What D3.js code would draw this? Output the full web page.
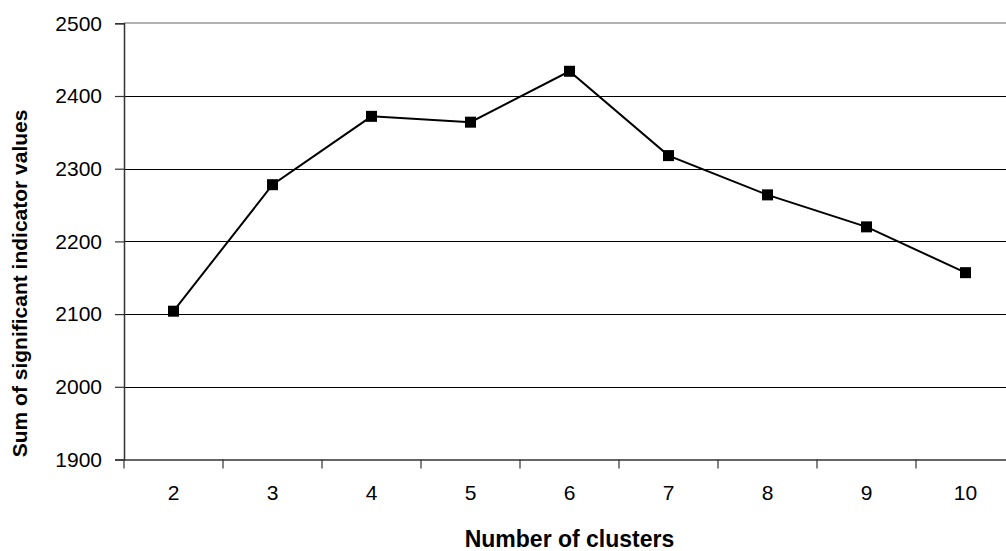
<!DOCTYPE html>
<html><head><meta charset="utf-8">
<script src="https://cdn.jsdelivr.net/npm/d3@7"></script>
<style>html,body{margin:0;padding:0;background:#fff;overflow:hidden}</style>
</head><body>
<svg id="c" width="1006" height="551"></svg>
<script>
const categories = ["2","3","4","5","6","7","8","9","10"];
const values = [2104, 2278, 2372, 2364, 2434, 2318, 2264, 2220, 2157];
const yTicks = [1900, 2000, 2100, 2200, 2300, 2400, 2500];

const svg = d3.select("#c");
const L = 124, R = 1015, T = 23.3, B = 459.5;
const font = "'Liberation Sans', Arial, sans-serif";

const x = d3.scaleBand().domain(categories).range([L, R]).padding(0);
const y = d3.scaleLinear().domain([1900, 2500]).range([B, T]);

// gridlines
svg.append("g").selectAll("line").data(yTicks.filter(d => d > 1900 && d < 2500)).join("line")
  .attr("x1", L).attr("x2", R).attr("y1", d => Math.round(y(d)) + 0.5).attr("y2", d => Math.round(y(d)) + 0.5)
  .attr("stroke", "#000").attr("stroke-width", 1);
// top border
svg.append("line").attr("x1", L).attr("x2", R).attr("y1", Math.round(T)).attr("y2", Math.round(T))
  .attr("stroke", "#999").attr("stroke-width", 1.5);

// y axis
const yAxis = svg.append("g").attr("transform", `translate(${L},0)`)
  .call(d3.axisLeft(y).tickValues(yTicks).tickSize(9).tickPadding(13).tickFormat(d3.format("d")));
yAxis.select(".domain").attr("stroke", "#333").attr("stroke-width", 1.5);
yAxis.selectAll(".tick line").attr("stroke", "#333").attr("stroke-width", 1.2);
yAxis.selectAll("text").attr("font-family", font).attr("font-size", 21).attr("fill", "#000");

// x axis
const xAxis = svg.append("g").attr("transform", `translate(0,${B})`)
  .call(d3.axisBottom(x).tickSize(0).tickPadding(26));
xAxis.select(".domain").attr("stroke", "#333").attr("stroke-width", 1.5);
xAxis.selectAll("text").attr("font-family", font).attr("font-size", 21).attr("fill", "#000");
// category boundary ticks
const bounds = categories.map(c => x(c)).concat([R]);
svg.append("g").selectAll("line").data(bounds).join("line")
  .attr("x1", d => d).attr("x2", d => d).attr("y1", B).attr("y2", B + 9)
  .attr("stroke", "#333").attr("stroke-width", 1.2);

// line
const cx = c => x(c) + x.bandwidth() / 2;
svg.append("path").datum(values)
  .attr("d", d3.line().x((d, i) => cx(categories[i])).y(d => y(d)))
  .attr("fill", "none").attr("stroke", "#000").attr("stroke-width", 2);
svg.append("g").selectAll("rect").data(values).join("rect")
  .attr("x", (d, i) => cx(categories[i]) - 5.5).attr("y", d => y(d) - 5.5)
  .attr("width", 11).attr("height", 11).attr("fill", "#000");

// titles
svg.append("text").attr("x", (L + R) / 2).attr("y", 547).attr("text-anchor", "middle")
  .attr("font-family", font).attr("font-weight", "bold").attr("font-size", 23)
  .text("Number of clusters");
svg.append("text").attr("transform", `translate(27,${(T + B) / 2 + 42}) rotate(-90)`).attr("text-anchor", "middle")
  .attr("font-family", font).attr("font-weight", "bold").attr("font-size", 21)
  .text("Sum of significant indicator values");
</script>
</body></html>
